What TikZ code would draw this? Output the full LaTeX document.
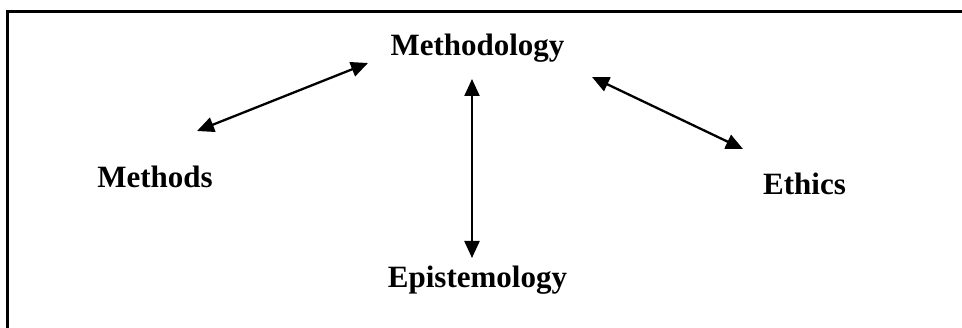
\documentclass[tikz,border=0pt]{standalone}
\usepackage{fontspec}
\setmainfont{Liberation Serif}
\usetikzlibrary{arrows.meta}
\begin{document}
\begin{tikzpicture}[x=1pt,y=1pt,
  lbl/.style={anchor=base,inner sep=0pt,font=\fontsize{31}{36}\selectfont\bfseries},
  link/.style={line width=2.3pt,{Triangle[length=17pt,width=15pt]}-{Triangle[length=17pt,width=15pt]}}]
\useasboundingbox (0,0) rectangle (962,327);
\draw[line width=3pt] (7.5,-5) -- (7.5,315.5) -- (967,315.5);
\node[lbl] (methodology) at (477.5,271) {Methodology};
\node[lbl] (methods) at (155,139) {Methods};
\node[lbl] (ethics) at (804.5,132) {Ethics};
\node[lbl] (epistemology) at (477.5,39) {Epistemology};
\coordinate (a1) at (197,196);
\coordinate (a2) at (368,264);
\coordinate (b1) at (592,250);
\coordinate (b2) at (743,178);
\coordinate (c1) at (472,248);
\coordinate (c2) at (472,69);
\draw[link] (a1) -- (a2);
\draw[link] (b1) -- (b2);
\draw[link] (c1) -- (c2);
\end{tikzpicture}
\end{document}
